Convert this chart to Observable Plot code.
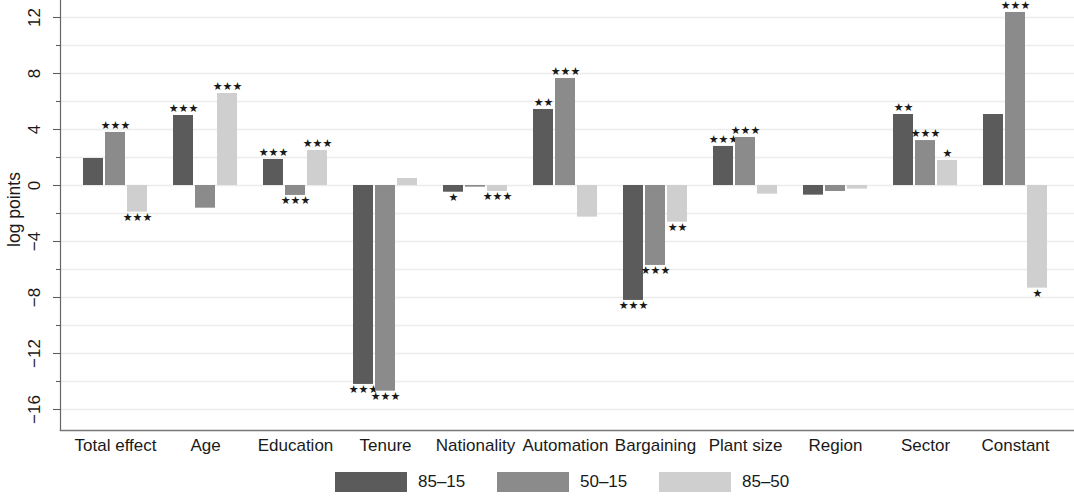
<!DOCTYPE html>
<html>
<head>
<meta charset="utf-8">
<script src="https://cdn.jsdelivr.net/npm/d3@7"></script>
<script src="https://cdn.jsdelivr.net/npm/@observablehq/plot@0.6"></script>
<style>
  html, body { margin: 0; padding: 0; background: #fff; }
  #chart { width: 1074px; }
  #legend { position: relative; width: 1074px; height: 35px; font-family: "Liberation Sans", Arial, Helvetica, sans-serif; font-size: 17px; color: #1a1a1a; }
  .sw { position: absolute; top: 10px; width: 72px; height: 20px; }
  .lt { position: absolute; top: 10px; height: 20px; line-height: 20px; }
</style>
</head>
<body>
<div id="chart"></div>
<div id="legend"></div>
<script>
const categories = ["Total effect","Age","Education","Tenure","Nationality","Automation","Bargaining","Plant size","Region","Sector","Constant"];
const series = ["85–15","50–15","85–50"];
const colors = ["#5b5b5b","#8b8b8b","#cfcfcf"];
const values8515 = [1.93, 5.00, 1.86, -14.21, -0.48, 5.43, -8.21, 2.79, -0.69, 5.07, 5.07];
const values5015 = [3.79, -1.62, -0.71, -14.69, -0.12, 7.64, -5.71, 3.43, -0.43, 3.21, 12.36];
const values8550 = [-1.90, 6.57, 2.50, 0.50, -0.43, -2.26, -2.62, -0.62, -0.26, 1.79, -7.33];
const stars8515 = ["", "***", "***", "***", "*", "**", "***", "***", "", "**", ""];
const stars5015 = ["***", "", "***", "***", "", "***", "***", "***", "", "***", "***"];
const stars8550 = ["***", "***", "***", "", "***", "", "**", "", "", "*", "*"];
const yTickLabels = [-16, -12, -8, -4, 0, 4, 8, 12];
const yMinorTicks = [-14, -10, -6, -2, 2, 6, 10];
const gridValues = [-16,-14,-12,-10,-8,-6,-4,-2,0,2,4,6,8,10,12];

const valueSets = [values8515, values5015, values8550];
const starSets = [stars8515, stars5015, stars8550];
const rows = [];
series.forEach((s, si) => {
  categories.forEach((c, ci) => {
    rows.push({category: c, series: s, value: valueSets[si][ci], stars: starSets[si][ci].replace(/\*/g, "★")});
  });
});

const offsets = [-22, 0, 22];
const font = '"Liberation Sans", Arial, Helvetica, sans-serif';

const marks = [
  Plot.gridY(gridValues, {stroke: "#ececec", strokeWidth: 1.6, strokeOpacity: 1})
];
series.forEach((s, si) => {
  const d = rows.filter(r => r.series === s);
  marks.push(Plot.barY(d, {x: "category", y: "value", fill: colors[si], dx: offsets[si], insetLeft: 35, insetRight: 35}));
  marks.push(Plot.text(d.filter(r => r.stars && r.value >= 0), {x: "category", y: "value", text: "stars", dx: offsets[si], dy: -7, fontSize: 11, fontFamily: "DejaVu Sans", fill: "#1a1a1a", lineAnchor: "middle", letterSpacing: "-0.5px"}));
  marks.push(Plot.text(d.filter(r => r.stars && r.value < 0), {x: "category", y: "value", text: "stars", dx: offsets[si], dy: 5, fontSize: 11, fontFamily: "DejaVu Sans", fill: "#1a1a1a", lineAnchor: "middle", letterSpacing: "-0.5px"}));
});
marks.push(
  Plot.frame({anchor: "left", stroke: "#666", strokeWidth: 1.2}),
  Plot.frame({anchor: "bottom", stroke: "#777", strokeWidth: 1.6}),
  Plot.axisY(yTickLabels, {tickSize: 7, tickFormat: () => "", label: null, stroke: "#555"}),
  Plot.axisY(yMinorTicks, {tickSize: 4, tickFormat: () => "", label: null, stroke: "#555"}),
  Plot.text(yTickLabels, {y: d => d, text: d => d3.format("")(d).replace("-", "−"), frameAnchor: "left", dx: -26, rotate: -90, fontSize: 17, fill: "#1a1a1a", textAnchor: "middle", lineAnchor: "middle"}),
  Plot.text(["log points"], {frameAnchor: "left", dx: -46, dy: -6, rotate: -90, fontSize: 17.5, fill: "#1a1a1a", textAnchor: "middle", lineAnchor: "middle"}),
  Plot.axisX({tickSize: 0, tickPadding: 8, fontSize: 17, label: null, fill: "#1a1a1a"})
);

const chart = Plot.plot({
  width: 1074,
  height: 462,
  marginLeft: 60,
  marginRight: 0,
  marginTop: 0,
  marginBottom: 32,
  style: {fontFamily: font, fontSize: "17px", color: "#1a1a1a", background: "#fff"},
  x: {domain: categories, range: [69.5, 1059.5], padding: 0},
  y: {domain: [-17.5, 13.214]},
  marks
});
document.getElementById("chart").appendChild(chart);

const legend = document.getElementById("legend");
series.forEach((s, i) => {
  const sw = document.createElement("div");
  sw.className = "sw";
  sw.style.left = (335 + 162 * i) + "px";
  sw.style.background = colors[i];
  legend.appendChild(sw);
  const t = document.createElement("div");
  t.className = "lt";
  t.style.left = (418 + 162 * i) + "px";
  t.textContent = s;
  legend.appendChild(t);
});
</script>
</body>
</html>
